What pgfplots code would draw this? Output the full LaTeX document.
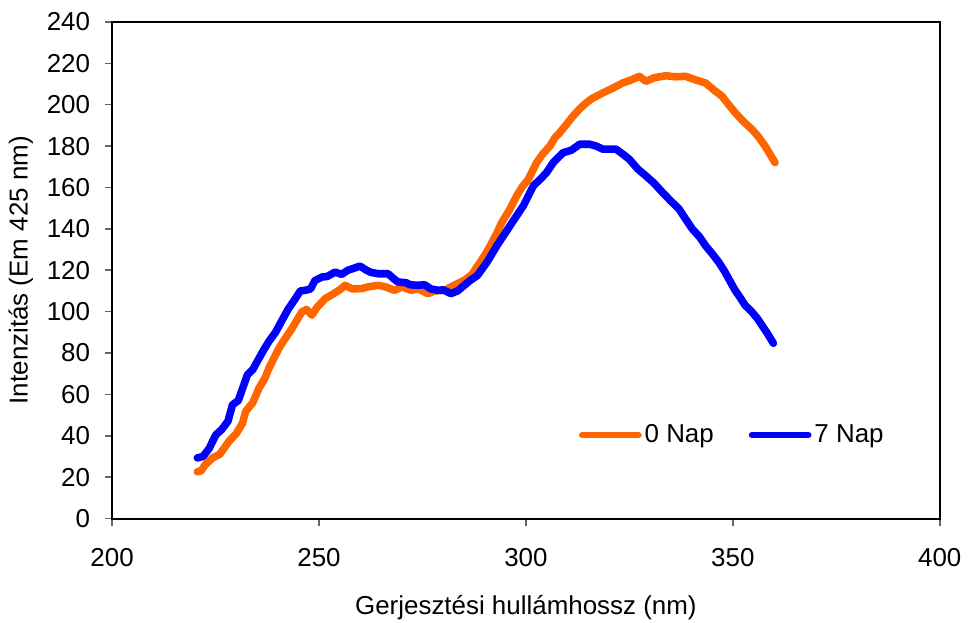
\documentclass[border=0pt]{standalone}
\usepackage{fontspec}
\setmainfont{Liberation Sans}
\usepackage{pgfplots}
\pgfplotsset{compat=1.18}
\definecolor{napnull}{HTML}{FF6600}
\definecolor{naphet}{HTML}{0000FF}
\begin{document}
\fontsize{13pt}{15pt}\selectfont
\begin{tikzpicture}
  \begin{axis}[
      scale only axis,
      width=415pt, height=249pt,
      xmin=200, xmax=400, ymin=0, ymax=240,
      xtick={200,250,...,400},
      ytick={0,20,...,240},
      tick align=outside,
      tick pos=left,
      major tick length=3.5pt,
      every tick/.style={gray!80!black, line width=0.8pt},
      axis line style={black, line width=1pt},
      /pgf/number format/assume math mode=true,
      ticklabel style={font=\fontsize{13pt}{15pt}\selectfont},
      xticklabel style={yshift=-7pt},
      yticklabel style={xshift=-3pt},
      xlabel={Gerjesztési hullámhossz (nm)},
      ylabel={Intenzitás (Em 425 nm)},
      xlabel style={inner ysep=1pt, yshift=-9pt},
      ylabel style={yshift=-2pt},
      label style={font=\fontsize{13pt}{15pt}\selectfont},
      legend style={draw=none, fill=none, at={(0.75,0.168)}, anchor=center,
        legend columns=2, column sep=0pt,
        /tikz/every even column/.append style={column sep=16pt},
        font=\fontsize{13pt}{15pt}\selectfont,
        nodes={inner xsep=1.5pt}},
      legend image code/.code={\draw[#1, line width=3pt, line cap=round] (0cm,0cm) -- (1.0cm,0cm);},
    ]
    \addplot[napnull, line width=3.8pt, line join=round, line cap=round] coordinates {
      (220.6,22.6) (221.5,23) (222.5,26) (224.3,29.3) (226,31) (228.3,37.4)
      (230,41) (231.5,46) (232.3,51.8) (234,56) (235.5,63) (237,68)
      (237.9,72.6) (239,77) (240.3,82.2) (241.5,86) (243.5,91.9) (245,97)
      (245.9,99.9) (247,101) (248.3,98.3) (249.5,102) (251.5,106.3) (253,108)
      (255,110.5) (256.3,112.7) (258,111) (260.3,111.1) (262,112) (264.3,112.7)
      (266,112) (268.3,110.3) (270,112) (272.3,110.3) (274,111) (276.3,108.7)
      (278,110) (280.3,110.3) (282,112) (284,114) (285.1,115.1) (287,118)
      (288.3,122) (290,127) (291.4,131.9) (293,138) (294.2,143.2) (296,149)
      (297.8,156) (299,160) (300.6,164) (302.6,172) (304,176) (305.8,180)
      (307,184) (308.2,186.5) (310,191) (311.4,194.5) (313,198) (314.6,200.9)
      (316,203) (318.6,205.7) (321,208) (323.4,210.5) (325.5,212) (327.4,213.7)
      (329,211.3) (331,213) (333.8,214) (336,213.5) (338.6,213.7) (341,212)
      (343.4,210.5) (345.5,207) (347.4,204.1) (349,200) (350.6,196.1) (352.5,192)
      (354.6,188.1) (356,185) (357.8,180) (359,176) (360.2,172)
    };
    \addplot[naphet, line width=3.8pt, line join=round, line cap=round] coordinates {
      (220.6,29.3) (222,30) (223.5,34) (225.1,40.5) (226.5,43) (228,47)
      (229.1,55) (230.5,57) (232.7,69.4) (234,72) (235.5,77.4) (236.5,81)
      (237.9,85.6) (239.5,90) (241.1,95.9) (242.5,101) (244.3,106.3) (245.5,110)
      (246.7,110.3) (248,111) (249,115) (250.7,116.7) (252,117) (253.9,119.1)
      (255.5,118) (257,120) (258.5,121) (259.9,122) (261.5,120) (262.5,119)
      (264.3,118.3) (266.7,118.3) (268,116) (269.1,114.3) (271,114) (272,113)
      (273.9,112.7) (275.5,113) (277,111) (278.7,110.3) (280,110.5) (281.9,108.7)
      (283.5,110) (285.1,112.7) (286.5,115) (288.3,117.5) (290.6,123.9) (293,131.9)
      (296.2,141.6) (299.4,151.2) (301.8,160.8) (303.5,164) (305,167.2) (306.6,172)
      (309,176.8) (311,178) (313,180.9) (315.4,180.9) (317,180) (318.6,178.5)
      (321.8,178.5) (323.5,176) (325,173.6) (327,169) (329,165.6) (331,162)
      (333,157.6) (335,153.5) (337,149.6) (338.5,145) (340.2,140) (342,136)
      (343.4,131.9) (345,128) (346.6,123.9) (348,119.5) (349,115.9) (350.5,110.5)
      (351.4,107.9) (353,103) (354.6,99.9) (356,96.5) (357,93.5) (358.5,89)
      (359.8,84.7)
    };
    \legend{0 Nap, 7 Nap}
  \end{axis}
  \path ([yshift=11pt]current axis.north);
\end{tikzpicture}
\end{document}
